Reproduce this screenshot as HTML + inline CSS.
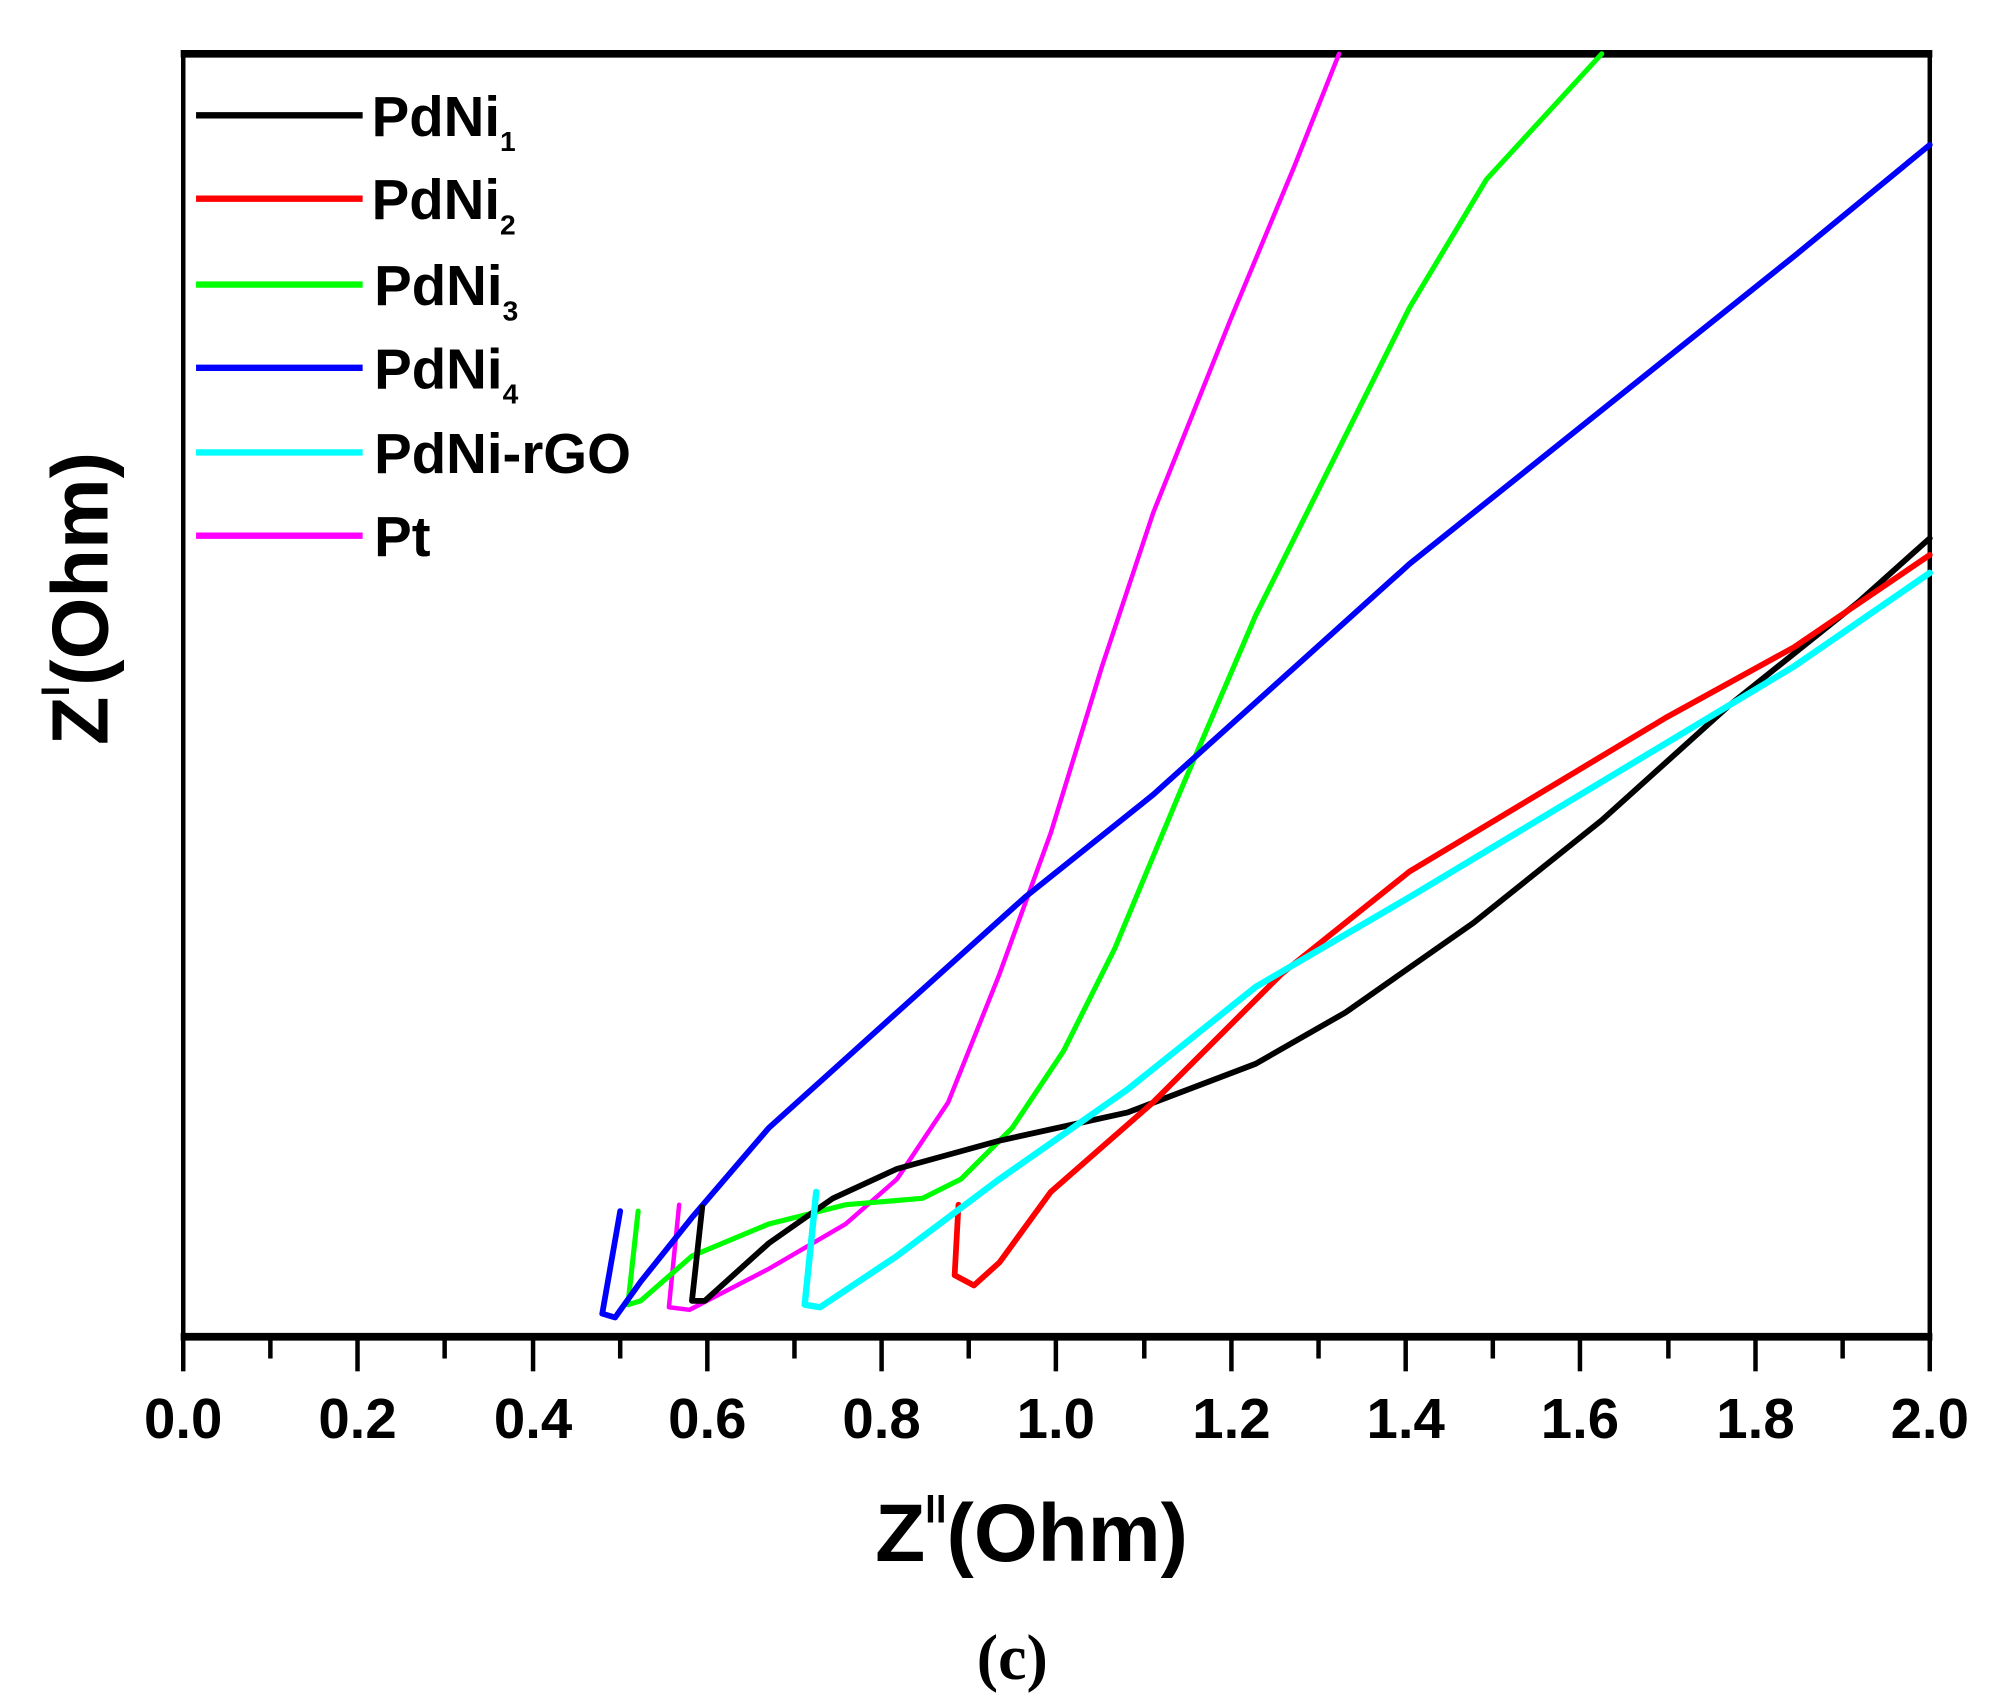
<!DOCTYPE html>
<html><head><meta charset="utf-8"><style>
html,body{margin:0;padding:0;background:#fff;}
svg{display:block;}
text{font-family:"Liberation Sans",Arial,sans-serif;font-weight:bold;fill:#000;}
</style></head><body>
<svg width="1990" height="1702" viewBox="0 0 1553 1328" preserveAspectRatio="none" xmlns="http://www.w3.org/2000/svg">
<rect width="1553" height="1328" fill="#fff"/>
<!-- frame -->
<line x1="141" y1="42" x2="1508" y2="42" stroke="#000" stroke-width="6"/>
<line x1="141" y1="1043" x2="1508" y2="1043" stroke="#000" stroke-width="6"/>
<line x1="143" y1="40" x2="143" y2="1046" stroke="#000" stroke-width="3.5"/>
<line x1="1506" y1="40" x2="1506" y2="1046" stroke="#000" stroke-width="3.5"/>
<g stroke="#000" stroke-width="3.5">
<line x1="143" y1="1043" x2="143" y2="1070"/><line x1="211" y1="1043" x2="211" y2="1060"/>
<line x1="279" y1="1043" x2="279" y2="1070"/><line x1="347" y1="1043" x2="347" y2="1060"/>
<line x1="416" y1="1043" x2="416" y2="1070"/><line x1="484" y1="1043" x2="484" y2="1060"/>
<line x1="552" y1="1043" x2="552" y2="1070"/><line x1="620" y1="1043" x2="620" y2="1060"/>
<line x1="688" y1="1043" x2="688" y2="1070"/><line x1="756" y1="1043" x2="756" y2="1060"/>
<line x1="824" y1="1043" x2="824" y2="1070"/><line x1="893" y1="1043" x2="893" y2="1060"/>
<line x1="961" y1="1043" x2="961" y2="1070"/><line x1="1029" y1="1043" x2="1029" y2="1060"/>
<line x1="1097" y1="1043" x2="1097" y2="1070"/><line x1="1165" y1="1043" x2="1165" y2="1060"/>
<line x1="1233" y1="1043" x2="1233" y2="1070"/><line x1="1302" y1="1043" x2="1302" y2="1060"/>
<line x1="1370" y1="1043" x2="1370" y2="1070"/><line x1="1438" y1="1043" x2="1438" y2="1060"/>
<line x1="1506" y1="1043" x2="1506" y2="1070"/>
</g>
<g font-size="44" text-anchor="middle">
<text x="143" y="1122">0.0</text><text x="279" y="1122">0.2</text><text x="416" y="1122">0.4</text>
<text x="552" y="1122">0.6</text><text x="688" y="1122">0.8</text><text x="824" y="1122">1.0</text>
<text x="961" y="1122">1.2</text><text x="1097" y="1122">1.4</text><text x="1233" y="1122">1.6</text>
<text x="1370" y="1122">1.8</text><text x="1506" y="1122">2.0</text>
</g>
<text x="805" y="1218" font-size="64" text-anchor="middle">Z<tspan font-size="30" dy="-30">ll</tspan><tspan dy="30">(Ohm)</tspan></text>
<text x="790" y="1310" font-size="50" text-anchor="middle" style="font-family:'Liberation Serif',serif;">(c)</text>
<text transform="translate(84,467) rotate(-90)" font-size="62" text-anchor="middle">Z<tspan font-size="30" dy="-30">l</tspan><tspan dy="30">(Ohm)</tspan></text>
<!-- legend -->
<g stroke-width="5">
<line x1="153" y1="90" x2="283" y2="90" stroke="#000"/>
<line x1="153" y1="155" x2="283" y2="155" stroke="#f00"/>
<line x1="153" y1="222" x2="283" y2="222" stroke="#0f0"/>
<line x1="153" y1="287" x2="283" y2="287" stroke="#00f"/>
<line x1="153" y1="353" x2="283" y2="353" stroke="#0ff"/>
<line x1="153" y1="418" x2="283" y2="418" stroke="#f0f"/>
</g>
<g font-size="44">
<text x="290" y="106">PdNi<tspan font-size="22" dy="12">1</tspan></text>
<text x="290" y="171">PdNi<tspan font-size="22" dy="12">2</tspan></text>
<text x="292" y="238">PdNi<tspan font-size="22" dy="12">3</tspan></text>
<text x="292" y="303">PdNi<tspan font-size="22" dy="12">4</tspan></text>
<text x="292" y="369">PdNi-rGO</text>
<text x="292" y="434">Pt</text>
</g>
<!-- curves -->
<g fill="none" stroke-linejoin="round" stroke-linecap="round">
<polyline stroke="#f0f" stroke-width="3.5" points="530,940 522,1020 538,1022 600,990 660,955 700,920 740,860 780,760 820,650 860,520 900,400 960,250 1010,130 1045,42"/>
<polyline stroke="#0f0" stroke-width="4" points="498,945 490,1018 500,1015 540,980 600,955 660,940 720,935 750,920 790,880 830,820 870,740 920,620 980,480 1040,360 1100,240 1160,140 1250,42"/>
<polyline stroke="#00f" stroke-width="4.5" points="484,945 470,1025 480,1028 500,1000 540,950 600,880 700,790 800,700 900,620 1000,530 1100,440 1200,360 1300,280 1400,200 1506,113"/>
<polyline stroke="#000" stroke-width="4.5" points="548,942 540,1015 550,1015 600,970 650,935 700,912 780,890 880,868 980,830 1050,790 1150,720 1250,640 1350,550 1450,470 1506,420"/>
<polyline stroke="#f00" stroke-width="4.5" points="748,940 745,995 760,1003 780,985 820,930 900,860 1000,760 1100,680 1200,620 1300,560 1400,505 1506,433"/>
<polyline stroke="#0ff" stroke-width="5" points="637,930 628,1018 640,1020 700,980 780,920 880,850 980,770 1100,700 1200,640 1300,580 1400,520 1506,447"/>
</g>
</svg>
</body></html>
